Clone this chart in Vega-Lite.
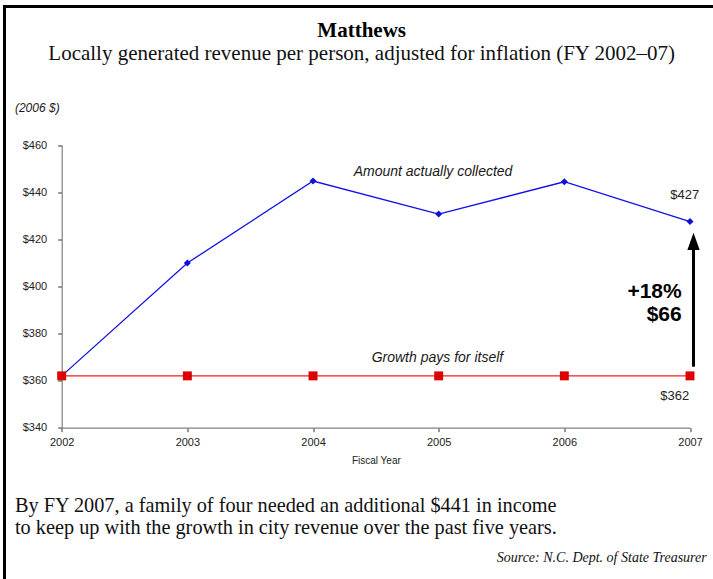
{
  "$schema": "https://vega.github.io/schema/vega-lite/v6.json",
  "width": 708.5,
  "height": 572.5,
  "autosize": {"type": "none"},
  "padding": {"left": 4.5, "top": 6.5, "right": 0, "bottom": 0},
  "background": "white",
  "config": {
    "view": {"stroke": null},
    "font": "Liberation Sans"
  },
  "datasets": {
    "collected": [
      {"year": 2002, "value": 362.0},
      {"year": 2003, "value": 409.9},
      {"year": 2004, "value": 444.7},
      {"year": 2005, "value": 430.7},
      {"year": 2006, "value": 444.4},
      {"year": 2007, "value": 427.5}
    ],
    "selfpay": [
      {"year": 2002, "value": 362.0},
      {"year": 2003, "value": 362.0},
      {"year": 2004, "value": 362.0},
      {"year": 2005, "value": 362.0},
      {"year": 2006, "value": 362.0},
      {"year": 2007, "value": 362.0}
    ],
    "frame": [
      {"edge": "top", "year": 2001.5448, "year2": 2008.0, "value": 518.79, "value2": 518.79},
      {"edge": "left", "year": 2001.5448, "year2": 2001.5448, "value": 518.79, "value2": 250.0}
    ]
  },
  "layer": [
    {
      "data": {"name": "collected"},
      "mark": {"type": "line", "color": "#1010E8", "strokeWidth": 1.3, "point": {"shape": "diamond", "size": 50, "filled": true, "color": "#1010D8"}},
      "encoding": {
        "x": {"field": "year", "type": "quantitative",
          "scale": {"domain": [2002, 2007], "range": [57.2, 685.5], "nice": false, "zero": false},
          "axis": {"values": [2002, 2003, 2004, 2005, 2006, 2007], "format": "d", "title": "Fiscal Year", "offset": -151.3,
            "tickSize": 4, "labelPadding": 5, "labelFontSize": 11, "labelFlush": false, "labelColor": "#222",
            "titleFontSize": 10, "titleFontWeight": "normal", "titleColor": "#222", "titlePadding": 8,
            "domainColor": "#808080", "domainWidth": 1.2, "tickColor": "#333", "grid": false}},
        "y": {"field": "value", "type": "quantitative",
          "scale": {"domain": [340, 460], "range": [421.2, 138.5], "nice": false, "zero": false},
          "axis": {"values": [340, 360, 380, 400, 420, 440, 460], "format": "$.0f", "title": null, "offset": -57.2,
            "tickSize": 4, "labelPadding": 11, "labelFontSize": 11, "labelFlush": false, "labelColor": "#222",
            "domainColor": "#808080", "domainWidth": 1.2, "tickColor": "#333", "grid": false}}
      }
    },
    {
      "data": {"name": "selfpay"},
      "mark": {"type": "line", "color": "#F02020", "strokeWidth": 1.2, "point": {"shape": "square", "size": 80, "filled": true, "color": "#DD0000"}},
      "encoding": {
        "x": {"field": "year", "type": "quantitative", "scale": {"domain": [2002, 2007], "range": [57.2, 685.5], "nice": false, "zero": false}},
        "y": {"field": "value", "type": "quantitative", "scale": {"domain": [340, 460], "range": [421.2, 138.5], "nice": false, "zero": false}}
      }
    },
    {
      "data": {"name": "frame"},
      "mark": {"type": "rule", "color": "black", "strokeWidth": 3, "strokeCap": "square"},
      "encoding": {
        "x": {"field": "year", "type": "quantitative", "scale": {"domain": [2002, 2007], "range": [57.2, 685.5], "nice": false, "zero": false}},
        "x2": {"field": "year2"},
        "y": {"field": "value", "type": "quantitative", "scale": {"domain": [340, 460], "range": [421.2, 138.5], "nice": false, "zero": false}},
        "y2": {"field": "value2"}
      }
    },
    {
      "data": {"values": [{"year": 2007.028, "value": 365.9, "value2": 417.0}]},
      "mark": {"type": "rule", "color": "black", "strokeWidth": 3},
      "encoding": {
        "x": {"field": "year", "type": "quantitative", "scale": {"domain": [2002, 2007], "range": [57.2, 685.5], "nice": false, "zero": false}},
        "y": {"field": "value", "type": "quantitative", "scale": {"domain": [340, 460], "range": [421.2, 138.5], "nice": false, "zero": false}},
        "y2": {"field": "value2"}
      }
    },
    {
      "data": {"values": [{"year": 2007.028, "value": 419.1}]},
      "mark": {"type": "point", "shape": "M0,-1L0.71,1L-0.71,1Z", "size": 300, "filled": true, "color": "black", "opacity": 1},
      "encoding": {
        "x": {"field": "year", "type": "quantitative", "scale": {"domain": [2002, 2007], "range": [57.2, 685.5], "nice": false, "zero": false}},
        "y": {"field": "value", "type": "quantitative", "scale": {"domain": [340, 460], "range": [421.2, 138.5], "nice": false, "zero": false}}
      }
    },
    {
      "data": {"values": [
        {"label": "Amount actually collected", "year": 2004.955, "value": 448.7},
        {"label": "Growth pays for itself", "year": 2004.99, "value": 369.5}
      ]},
      "mark": {"type": "text", "font": "Liberation Sans", "fontStyle": "italic", "fontSize": 14, "color": "#1a1a1a", "align": "center", "baseline": "middle"},
      "encoding": {
        "x": {"field": "year", "type": "quantitative", "scale": {"domain": [2002, 2007], "range": [57.2, 685.5], "nice": false, "zero": false}},
        "y": {"field": "value", "type": "quantitative", "scale": {"domain": [340, 460], "range": [421.2, 138.5], "nice": false, "zero": false}},
        "text": {"field": "label"}
      }
    },
    {
      "data": {"values": [
        {"label": "$427", "year": 2006.958, "value": 438.8},
        {"label": "$362", "year": 2006.878, "value": 353.6}
      ]},
      "mark": {"type": "text", "font": "Liberation Sans", "fontSize": 13, "color": "#222", "align": "center", "baseline": "middle"},
      "encoding": {
        "x": {"field": "year", "type": "quantitative", "scale": {"domain": [2002, 2007], "range": [57.2, 685.5], "nice": false, "zero": false}},
        "y": {"field": "value", "type": "quantitative", "scale": {"domain": [340, 460], "range": [421.2, 138.5], "nice": false, "zero": false}},
        "text": {"field": "label"}
      }
    },
    {
      "data": {"values": [
        {"label": "+18%", "year": 2006.934, "value": 397.7},
        {"label": "$66", "year": 2006.934, "value": 387.8}
      ]},
      "mark": {"type": "text", "font": "Liberation Sans", "fontWeight": "bold", "fontSize": 21, "color": "black", "align": "right", "baseline": "middle"},
      "encoding": {
        "x": {"field": "year", "type": "quantitative", "scale": {"domain": [2002, 2007], "range": [57.2, 685.5], "nice": false, "zero": false}},
        "y": {"field": "value", "type": "quantitative", "scale": {"domain": [340, 460], "range": [421.2, 138.5], "nice": false, "zero": false}},
        "text": {"field": "label"}
      }
    },
    {
      "data": {"values": [{"label": "(2006 $)", "year": 2001.628, "value": 474.0}]},
      "mark": {"type": "text", "font": "Liberation Sans", "fontStyle": "italic", "fontSize": 12, "color": "#1a1a1a", "align": "left", "baseline": "alphabetic"},
      "encoding": {
        "x": {"field": "year", "type": "quantitative", "scale": {"domain": [2002, 2007], "range": [57.2, 685.5], "nice": false, "zero": false}},
        "y": {"field": "value", "type": "quantitative", "scale": {"domain": [340, 460], "range": [421.2, 138.5], "nice": false, "zero": false}},
        "text": {"field": "label"}
      }
    },
    {
      "data": {"values": [{"label": "Matthews", "year": 2004.387, "value": 506.05}]},
      "mark": {"type": "text", "font": "Liberation Serif", "fontWeight": "bold", "fontSize": 21, "color": "black", "align": "center", "baseline": "alphabetic"},
      "encoding": {
        "x": {"field": "year", "type": "quantitative", "scale": {"domain": [2002, 2007], "range": [57.2, 685.5], "nice": false, "zero": false}},
        "y": {"field": "value", "type": "quantitative", "scale": {"domain": [340, 460], "range": [421.2, 138.5], "nice": false, "zero": false}},
        "text": {"field": "label"}
      }
    },
    {
      "data": {"values": [{"label": "Locally generated revenue per person, adjusted for inflation (FY 2002–07)", "year": 2004.387, "value": 495.87}]},
      "mark": {"type": "text", "font": "Liberation Serif", "fontSize": 21, "color": "#111", "align": "center", "baseline": "alphabetic"},
      "encoding": {
        "x": {"field": "year", "type": "quantitative", "scale": {"domain": [2002, 2007], "range": [57.2, 685.5], "nice": false, "zero": false}},
        "y": {"field": "value", "type": "quantitative", "scale": {"domain": [340, 460], "range": [421.2, 138.5], "nice": false, "zero": false}},
        "text": {"field": "label"}
      }
    },
    {
      "data": {"values": [
        {"label": "By FY 2007, a family of four needed an additional $441 in income", "year": 2001.628, "value": 304.2},
        {"label": "to keep up with the growth in city revenue over the past five years.", "year": 2001.628, "value": 294.67}
      ]},
      "mark": {"type": "text", "font": "Liberation Serif", "fontSize": 20.3, "color": "#111", "align": "left", "baseline": "alphabetic"},
      "encoding": {
        "x": {"field": "year", "type": "quantitative", "scale": {"domain": [2002, 2007], "range": [57.2, 685.5], "nice": false, "zero": false}},
        "y": {"field": "value", "type": "quantitative", "scale": {"domain": [340, 460], "range": [421.2, 138.5], "nice": false, "zero": false}},
        "text": {"field": "label"}
      }
    },
    {
      "data": {"values": [{"label": "Source: N.C. Dept. of State Treasurer", "year": 2007.133, "value": 283.1}]},
      "mark": {"type": "text", "font": "Liberation Serif", "fontStyle": "italic", "fontSize": 14, "color": "#111", "align": "right", "baseline": "alphabetic"},
      "encoding": {
        "x": {"field": "year", "type": "quantitative", "scale": {"domain": [2002, 2007], "range": [57.2, 685.5], "nice": false, "zero": false}},
        "y": {"field": "value", "type": "quantitative", "scale": {"domain": [340, 460], "range": [421.2, 138.5], "nice": false, "zero": false}},
        "text": {"field": "label"}
      }
    }
  ]
}
